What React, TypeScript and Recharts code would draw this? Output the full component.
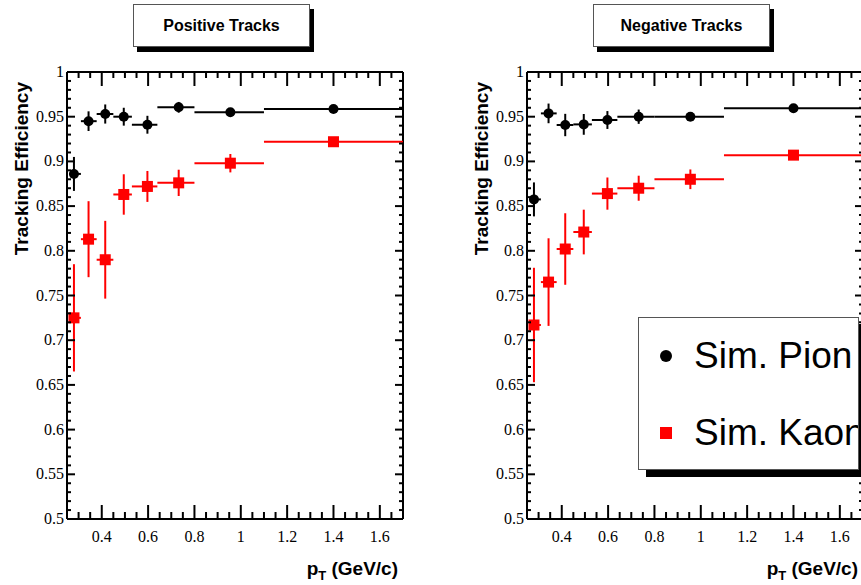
import React from "react";
import {
  ComposedChart,
  Scatter,
  ErrorBar,
  XAxis,
  YAxis,
  Legend,
  ReferenceLine,
} from "recharts";

// pT bins (GeV/c)
const ptCenters = [0.28, 0.343, 0.415, 0.495, 0.597, 0.732, 0.955, 1.4];
const binLow = [0.26, 0.31, 0.378, 0.45, 0.53, 0.64, 0.8, 1.1];
const binHigh = [0.31, 0.378, 0.45, 0.53, 0.64, 0.8, 1.1, 1.7];

// positive tracks
const posPionEff = [0.886, 0.945, 0.953, 0.95, 0.941, 0.9605, 0.955, 0.9586];
const posPionErr = [0.019, 0.011, 0.0107, 0.01, 0.01, 0.006, 0.003, 0.002];
const posKaonEff = [0.725, 0.813, 0.79, 0.863, 0.872, 0.876, 0.898, 0.922];
const posKaonErr = [0.06, 0.0425, 0.0435, 0.0226, 0.0173, 0.0147, 0.0103, 0.004];

// negative tracks
const negPionEff = [0.8575, 0.9537, 0.9407, 0.9414, 0.9463, 0.95, 0.95, 0.9594];
const negPionErr = [0.019, 0.011, 0.0125, 0.0116, 0.01, 0.008, 0.003, 0.003];
const negKaonEff = [0.717, 0.765, 0.802, 0.821, 0.864, 0.87, 0.88, 0.907];
const negKaonErr = [0.064, 0.049, 0.04, 0.025, 0.018, 0.014, 0.011, 0.005];

const legendOrder = ["Sim. Pion", "Sim. Kaon"];

// axes
const xDomain = [0.25, 1.7];
const yDomain = [0.5, 1];
const xLabels = [0.4, 0.6, 0.8, 1, 1.2, 1.4, 1.6];
const xTicks = [
  0.25, 0.3, 0.35, 0.4, 0.45, 0.5, 0.55, 0.6, 0.65, 0.7, 0.75, 0.8, 0.85, 0.9,
  0.95, 1, 1.05, 1.1, 1.15, 1.2, 1.25, 1.3, 1.35, 1.4, 1.45, 1.5, 1.55, 1.6,
  1.65, 1.7,
];
const yLabels = [0.5, 0.55, 0.6, 0.65, 0.7, 0.75, 0.8, 0.85, 0.9, 0.95, 1];
const yTicks: number[] = [];
for (let i = 50; i <= 100; i++) yTicks.push(i / 100);

const SERIF = "'Liberation Serif', 'Times New Roman', serif";
const SANS = "'Liberation Sans', Arial, sans-serif";
const TICK_W = 2;

const isLabel = (list: number[], v: number) =>
  list.some((l) => Math.abs(l - v) < 1e-6);

function buildPoints(eff: number[], err: number[]) {
  return ptCenters.map((x, i) => ({
    x,
    y: eff[i],
    ex: [x - binLow[i], binHigh[i] - x],
    ey: err[i],
  }));
}

// anchors for the inward ticks along the right edge of the frame
const rightTickPts = yTicks.map((v) => ({ x: xDomain[1], y: v }));

// left axis: label + inward tick
const LeftTick = (p: any) => {
  const x = Number(p.x);
  const y = Number(p.y);
  const major = isLabel(yLabels, p.payload.value);
  return (
    <g>
      <path d={`M${x},${y}h${major ? 8 : 4}`} stroke="#000" strokeWidth={TICK_W} fill="none" />
      {major && (
        <text x={x - 3} y={y + 5} textAnchor="end" fontFamily={SERIF} fontSize={16} fill="#000">
          {String(p.payload.value)}
        </text>
      )}
    </g>
  );
};

// bottom axis: label + inward tick
const BottomTick = (p: any) => {
  const x = Number(p.x);
  const y = Number(p.y);
  const major = isLabel(xLabels, p.payload.value);
  return (
    <g>
      <path d={`M${x},${y}v${-(major ? 14 : 7)}`} stroke="#000" strokeWidth={TICK_W} fill="none" />
      {major && (
        <text x={x} y={y + 23} textAnchor="middle" fontFamily={SERIF} fontSize={16} fill="#000">
          {String(p.payload.value)}
        </text>
      )}
    </g>
  );
};

// right edge ticks (scatter anchored at the top of the x domain)
const RightTickShape = (p: any) => {
  const len = isLabel(yLabels, p.payload.y) ? 8 : 4;
  return (
    <path d={`M${Number(p.cx)},${Number(p.cy)}h${-len}`} stroke="#000" strokeWidth={TICK_W} fill="none" />
  );
};

// top edge ticks (hung on vertical reference lines)
const TopRefShape = (v: number) => (p: any) => {
  const top = Math.min(Number(p.y1), Number(p.y2));
  return (
    <path
      d={`M${Number(p.x1)},${top}v${isLabel(xLabels, v) ? 14 : 6}`}
      stroke="#000"
      strokeWidth={TICK_W}
      fill="none"
    />
  );
};

const PionShape = (p: any) => <circle cx={p.cx} cy={p.cy} r={5} fill="#000" />;
const KaonShape = (p: any) => (
  <rect x={p.cx - 5.5} y={p.cy - 5.5} width={11} height={11} fill="#ff0000" />
);

const XTitle = ({ viewBox }: any) => (
  <text
    x={viewBox.x + viewBox.width - 5}
    y={viewBox.y + 56}
    textAnchor="end"
    fontFamily={SANS}
    fontWeight="bold"
    fontSize={19}
    fill="#000">
    p
    <tspan fontSize={13} dy={5}>T</tspan>
    <tspan dy={-5}> (GeV/c)</tspan>
  </text>
);

const YTitle = ({ viewBox }: any) => {
  const x = viewBox.x + 28;
  const y = viewBox.y + 10;
  return (
    <text
      x={x}
      y={y}
      transform={`rotate(-90, ${x}, ${y})`}
      textAnchor="end"
      fontFamily={SANS}
      fontWeight="bold"
      fontSize={19}
      fill="#000">
      Tracking Efficiency
    </text>
  );
};

const LegendBox = ({ payload }: any) => {
  const items = (payload || [])
    .filter((e: any) => legendOrder.includes(e.value))
    .sort((a: any, b: any) => legendOrder.indexOf(a.value) - legendOrder.indexOf(b.value));
  return (
    <div
      style={{
        boxSizing: "border-box",
        width: 221,
        height: 153,
        background: "#fff",
        border: "1.5px solid #555",
        boxShadow: "8px 7px 0 #000",
        fontFamily: SANS,
        fontSize: 37,
        color: "#000",
        position: "relative",
        overflow: "hidden",
      }}>
      {items.map((entry: any, i: number) => (
        <div
          key={entry.value}
          style={{
            position: "absolute",
            left: 21,
            top: i === 0 ? 17 : 94,
            display: "flex",
            alignItems: "center",
            whiteSpace: "nowrap",
            lineHeight: "42px",
          }}>
          {entry.value === "Sim. Pion" ? (
            <span style={{ width: 12, height: 12, borderRadius: 6, background: "#000", display: "inline-block" }} />
          ) : (
            <span style={{ width: 12, height: 12, background: "#ff0000", display: "inline-block" }} />
          )}
          <span style={{ marginLeft: 22 }}>{entry.value}</span>
        </div>
      ))}
    </div>
  );
};

function EffPanel({
  pion,
  kaon,
  showLegend,
}: {
  pion: any[];
  kaon: any[];
  showLegend: boolean;
}) {
  return (
    <ComposedChart width={420} height={585} margin={{ top: 72, right: 17, bottom: 0, left: 0 }}>
      <XAxis
        dataKey="x"
        type="number"
        domain={xDomain}
        allowDataOverflow
        ticks={xTicks}
        interval={0}
        height={66}
        tickSize={0}
        tickMargin={0}
        tickLine={false}
        tick={<BottomTick />}
        axisLine={{ stroke: "#000", strokeWidth: 2 }}
        label={<XTitle />}
      />
      <YAxis
        dataKey="y"
        type="number"
        domain={yDomain}
        allowDataOverflow
        ticks={yTicks}
        interval={0}
        width={67}
        tickSize={0}
        tickMargin={0}
        tickLine={false}
        tick={<LeftTick />}
        axisLine={{ stroke: "#000", strokeWidth: 2 }}
        label={<YTitle />}
      />
      {/* frame, top and right */}
      <ReferenceLine y={yDomain[1]} stroke="#000" strokeWidth={2} />
      <ReferenceLine x={xDomain[1]} stroke="#000" strokeWidth={2} />
      {xTicks.map((v) => (
        <ReferenceLine key={`t${v}`} x={v} shape={TopRefShape(v)} />
      ))}
      <Scatter
        data={rightTickPts}
        dataKey="y"
        legendType="none"
        shape={<RightTickShape />}
        isAnimationActive={false}
      />
      {showLegend && (
        <Legend
          layout="horizontal"
          align="center"
          verticalAlign="middle"
          content={<LegendBox />}
          wrapperStyle={{ left: 178, top: 317, width: 221, height: 153 }}
        />
      )}
      <Scatter
        name="Sim. Pion"
        data={pion}
        dataKey="y"
        fill="#000"
        shape={<PionShape />}
        legendType="circle"
        isAnimationActive={false}>
        <ErrorBar dataKey="ex" direction="x" width={0} stroke="#000" strokeWidth={2} />
        <ErrorBar dataKey="ey" direction="y" width={0} stroke="#000" strokeWidth={2} />
      </Scatter>
      <Scatter
        name="Sim. Kaon"
        data={kaon}
        dataKey="y"
        fill="#ff0000"
        shape={<KaonShape />}
        legendType="square"
        isAnimationActive={false}>
        <ErrorBar dataKey="ex" direction="x" width={0} stroke="#ff0000" strokeWidth={2} />
        <ErrorBar dataKey="ey" direction="y" width={0} stroke="#ff0000" strokeWidth={2} />
      </Scatter>
    </ComposedChart>
  );
}

const titleBox: React.CSSProperties = {
  position: "absolute",
  top: 4,
  width: 177,
  height: 43,
  boxSizing: "border-box",
  border: "1.5px solid #555",
  background: "#fff",
  boxShadow: "4px 5px 0 #000",
  display: "flex",
  alignItems: "center",
  justifyContent: "center",
  fontFamily: SANS,
  fontWeight: "bold",
  fontSize: 16,
  color: "#000",
};

export default function App() {
  return (
    <div
      style={{
        position: "absolute",
        left: 0,
        top: 0,
        width: 861,
        height: 585,
        overflow: "hidden",
        background: "#fff",
      }}>
      <div style={{ position: "absolute", left: 0, top: 0 }}>
        <EffPanel
          pion={buildPoints(posPionEff, posPionErr)}
          kaon={buildPoints(posKaonEff, posKaonErr)}
          showLegend={false}
        />
      </div>
      <div style={{ position: "absolute", left: 460, top: 0 }}>
        <EffPanel
          pion={buildPoints(negPionEff, negPionErr)}
          kaon={buildPoints(negKaonEff, negKaonErr)}
          showLegend={true}
        />
      </div>
      <div style={{ ...titleBox, left: 133 }}>Positive Tracks</div>
      <div style={{ ...titleBox, left: 593 }}>Negative Tracks</div>
    </div>
  );
}
